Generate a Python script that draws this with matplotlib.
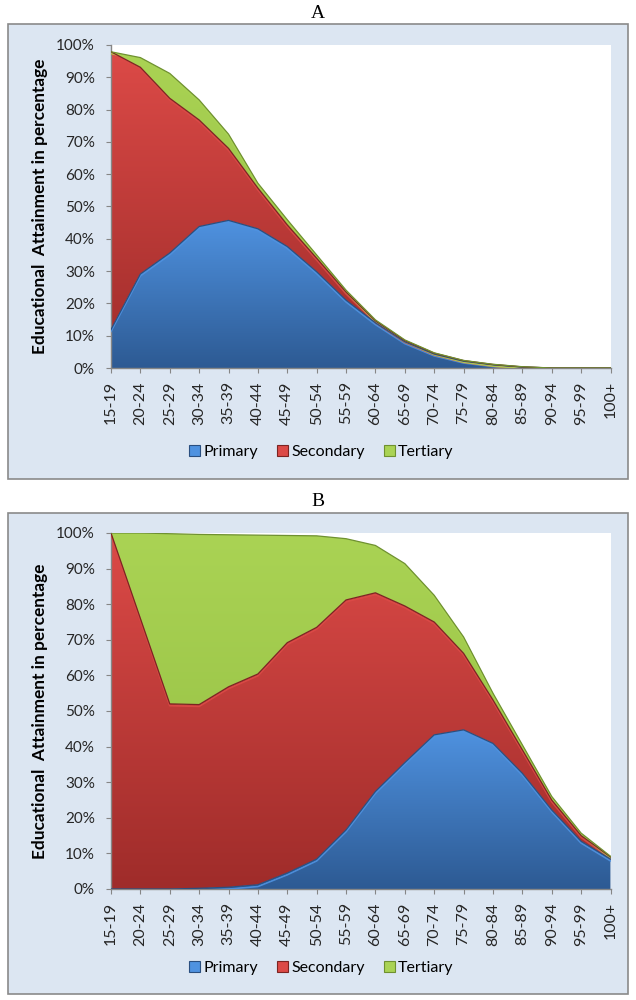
import numpy as np
import matplotlib.pyplot as plt
from matplotlib.colors import LinearSegmentedColormap
from matplotlib.patches import Rectangle, Patch
from matplotlib import transforms

ages = ['15-19', '20-24', '25-29', '30-34', '35-39', '40-44', '45-49', '50-54', '55-59',
        '60-64', '65-69', '70-74', '75-79', '80-84', '85-89', '90-94', '95-99', '100+']

# panel A (percent)
a_primary = [11.9, 29.1, 35.6, 43.8, 45.7, 43.1, 37.6, 29.8, 21.0, 14.0, 8.1, 4.3, 2.1, 1.0, 0.3, 0, 0, 0]
a_secondary = [86.0, 64.0, 47.9, 33.0, 22.3, 12.6, 6.7, 4.2, 2.5, 0.6, 0.4, 0.3, 0.2, 0.1, 0.05, 0, 0, 0]
a_tertiary = [0.0, 3.0, 7.7, 6.2, 4.4, 1.5, 1.6, 1.0, 0.6, 0.3, 0.2, 0.1, 0.05, 0.05, 0.05, 0, 0, 0]

# panel B (percent)
b_primary = [0, 0, 0, 0.2, 0.5, 1.2, 4.5, 8.4, 16.6, 27.4, 35.5, 43.3, 44.7, 40.9, 32.5, 22.2, 13.4, 8.4]
b_secondary = [100, 76, 52, 51.6, 56.3, 59.2, 64.7, 65.1, 64.6, 55.8, 44.0, 31.7, 21.5, 12.2, 6.6, 2.8, 1.6, 0.6]
b_tertiary = [0, 24, 47.8, 47.8, 42.7, 39.0, 30.1, 25.7, 17.2, 13.3, 11.9, 7.5, 4.6, 1.9, 1.4, 1.0, 0.7, 0.2]

series_names = ['Primary', 'Secondary', 'Tertiary']
# (top colour, bottom colour, edge colour)
cols = [('#4f92e0', '#2d5a93', '#2a4f80'),
        ('#dc4a47', '#9f2c2a', '#7c2422'),
        ('#aad354', '#93bd42', '#6f9130')]

FONT = 'Lato'
W, H = 636, 1000
fig = plt.figure(figsize=(W / 100, H / 100), dpi=100)


def fy(y):
    return 1 - y / H


def gradfill(ax, x, lo, hi, top, bot, edge):
    poly = ax.fill_between(x, lo, hi, color='none', lw=0)
    ymax = max(hi.max(), 1)
    cmap = LinearSegmentedColormap.from_list('g', [bot, top])
    grad = np.linspace(0, 1, 256).reshape(-1, 1)
    im = ax.imshow(grad, extent=[x[0], x[-1], 0, ymax], origin='lower', aspect='auto',
                   cmap=cmap, zorder=2, interpolation='bicubic')
    im.set_clip_path(poly.get_paths()[0], ax.transData)
    hl = transforms.offset_copy(ax.transData, fig=fig, x=0, y=-1.3, units='points')
    ax.plot(x, hi, color=top, lw=1.2, alpha=0.9, zorder=3, transform=hl)
    ax.plot(x, hi, color=edge, lw=0.9, zorder=4)


def panel(top_px, bot_px, ax_top, ax_bot, title, title_y, leg_y, prim, sec, ter):
    fig.patches.append(Rectangle((8 / W, fy(bot_px)), 620 / W, (bot_px - top_px) / H,
                                 transform=fig.transFigure, facecolor='#dce6f2',
                                 edgecolor='#8a8a8a', lw=1.2, zorder=-5))
    fig.text(0.5, fy(title_y), title, ha='center', va='center', fontsize=14,
             family='Liberation Serif')
    ax = fig.add_axes([111 / W, fy(ax_bot), 499.5 / W, (ax_bot - ax_top) / H])
    x = np.arange(len(ages))
    p = np.array(prim, float)
    s = p + np.array(sec, float)
    t = s + np.array(ter, float)
    gradfill(ax, x, np.zeros_like(p), p, *cols[0])
    gradfill(ax, x, p, s, *cols[1])
    gradfill(ax, x, s, t, *cols[2])
    ax.set_xlim(0, len(ages) - 1)
    ax.set_ylim(0, 100)
    ax.set_facecolor('white')
    ax.set_yticks(np.arange(0, 101, 10))
    ax.set_yticklabels([f'{v}%' for v in range(0, 101, 10)], family=FONT, fontsize=11,
                       color='#262626')
    ax.set_xticks(x)
    ax.set_xticklabels(ages, rotation=90, family=FONT, fontsize=11.5, color='#262626')
    for sp in ['top', 'right']:
        ax.spines[sp].set_visible(False)
    for sp in ['left', 'bottom']:
        ax.spines[sp].set_color('#868686')
        ax.spines[sp].set_linewidth(1)
    ax.tick_params(axis='both', direction='out', length=3.6, color='#868686')
    ax.tick_params(axis='y', pad=8)
    ax.tick_params(axis='x', pad=6)
    ax.set_ylabel('Educational  Attainment in percentage', family=FONT, fontweight='bold',
                  fontsize=12.4)
    ax.yaxis.set_label_coords(-0.126, 0.5)
    handles = [Patch(facecolor=c[0], edgecolor=c[2], lw=0.8) for c in cols]
    fig.legend(handles, series_names, loc='center', bbox_to_anchor=(0.505, fy(leg_y)), ncol=3,
               frameon=False, prop={'family': FONT, 'size': 11.5}, handlelength=0.7,
               handleheight=0.7, handletextpad=0.2, columnspacing=1.2)
    return ax


panel(24, 479, 45, 368, 'A', 13, 452, a_primary, a_secondary, a_tertiary)
panel(513, 994, 533, 889, 'B', 502, 968, b_primary, b_secondary, b_tertiary)

fig.savefig('out.png', dpi=100)
